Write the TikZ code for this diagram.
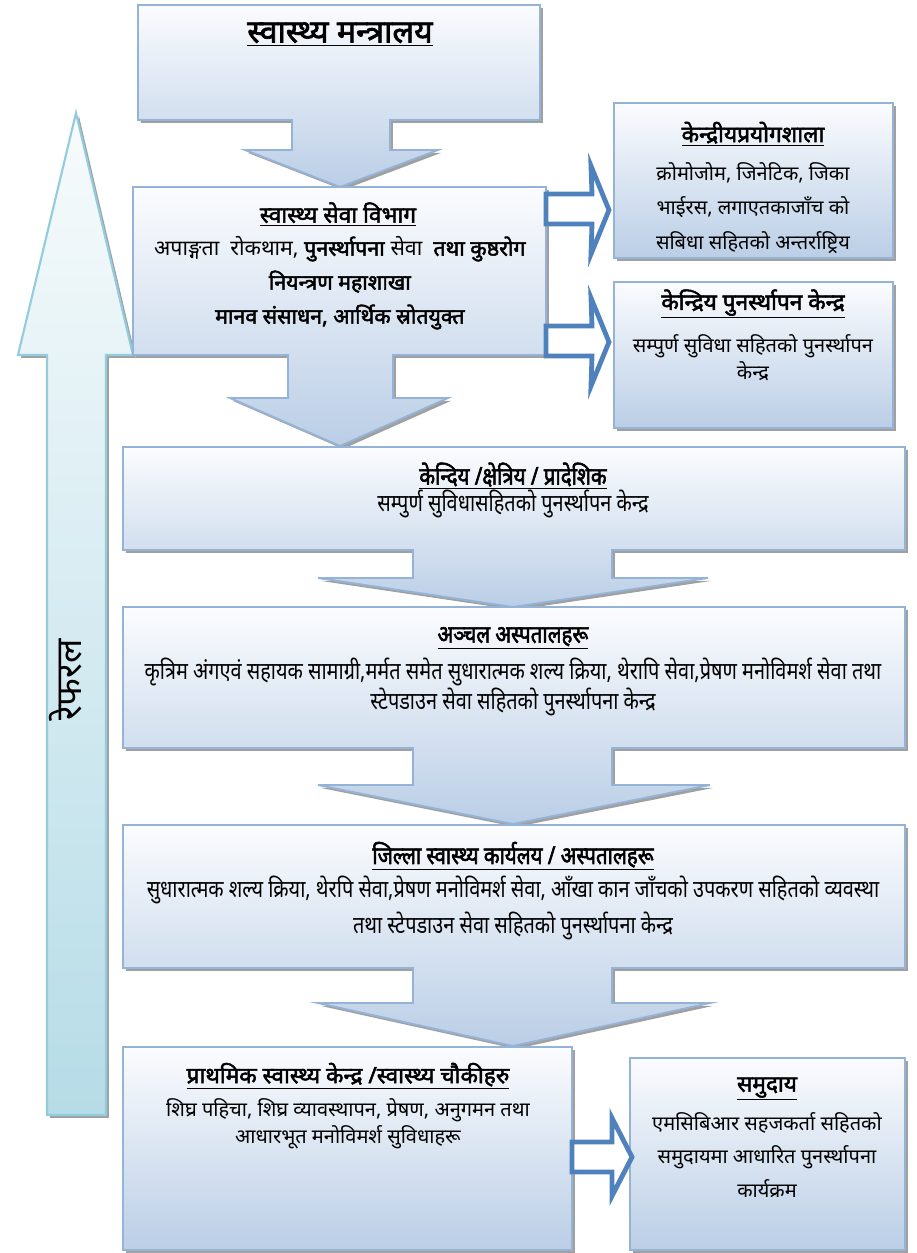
\documentclass[tikz,border=0pt]{standalone}
\usepackage{fontspec}
\newfontfamily\devfont[Script=Devanagari,BoldFont={Noto Sans},BoldFeatures={FakeBold=2.2}]{Noto Sans}
\newfontfamily\devnarrow[Script=Devanagari,FakeStretch=0.83,BoldFont={Noto Sans},BoldFeatures={FakeBold=2.2,FakeStretch=0.83}]{Noto Sans}

\definecolor{boxline}{HTML}{95B3D7}
\definecolor{boxtop}{HTML}{FBFCFE}
\definecolor{boxbottom}{HTML}{BACEE6}
\definecolor{hollowblue}{HTML}{4F81BD}
\definecolor{refline}{HTML}{93CDDD}
\definecolor{reftop}{HTML}{F7FBFC}
\definecolor{refbottom}{HTML}{B6DCE7}
\definecolor{shadowgray}{HTML}{A0A0A0}

\begin{document}
\begin{tikzpicture}[x=0.75pt,y=-0.75pt,
    boxshape/.style={draw=boxline, line width=1.4pt, top color=boxtop, bottom color=boxbottom,
        preaction={fill=shadowgray, transform canvas={shift={(2.2pt,-2.2pt)}}}},
    refshape/.style={draw=refline, line width=1.6pt, top color=reftop, bottom color=refbottom,
        preaction={fill=shadowgray, transform canvas={shift={(2.2pt,-2.2pt)}}}},
    hollowarrow/.style={draw=hollowblue, line width=3.6pt, fill=white, line join=miter},
    headtxt/.style={font=\devfont\bfseries\fontsize{#1}{#1}\selectfont},
    bodytxt/.style={align=center, font=\devfont\fontsize{15}{#1}\selectfont},
    narrowhead/.style={font=\devnarrow\bfseries\fontsize{18.5}{18.5}\selectfont},
    narrowbody/.style={align=center, font=\devnarrow\fontsize{18}{#1}\selectfont}]
    \useasboundingbox (0,0) rectangle (917,1253);
    % referral arrow on the left
    \path[refshape] (47,1115) -- (47,355) -- (18,355) -- (76,113) -- (133,355) -- (106,355) -- (106,1115) -- cycle;
    \node[rotate=90, font=\devfont\fontsize{27}{27}\selectfont] (referral) at (66,680) {रेफरल};
    % main column, top to bottom
    \path[boxshape] (138,5) -- (540,5) -- (540,120) -- (390,120) -- (390,150) -- (438,150) -- (340,187)
        -- (245,150) -- (292,150) -- (292,120) -- (138,120) -- cycle;
    \path[boxshape] (133,187) -- (546,187) -- (546,355) -- (393,355) -- (393,398) -- (448,398) -- (340,446)
        -- (230,398) -- (288,398) -- (288,355) -- (133,355) -- cycle;
    \path[boxshape] (123,447) -- (905,447) -- (905,550) -- (612,550) -- (612,578) -- (708,578) -- (513,607)
        -- (318,578) -- (413,578) -- (413,550) -- (123,550) -- cycle;
    \path[boxshape] (123,607) -- (905,607) -- (905,748) -- (612,748) -- (612,785) -- (710,785) -- (513,824)
        -- (318,785) -- (413,785) -- (413,748) -- (123,748) -- cycle;
    \path[boxshape] (123,825) -- (905,825) -- (905,968) -- (612,968) -- (612,1003) -- (710,1003) -- (513,1046)
        -- (318,1003) -- (413,1003) -- (413,968) -- (123,968) -- cycle;
    \path[boxshape] (123,1047) rectangle (572,1250);
    % side boxes
    \path[boxshape] (614,103) rectangle (893,258);
    \path[boxshape] (614,282) rectangle (893,428);
    \path[boxshape] (630,1058) rectangle (905,1250);
    % hollow arrows
    \draw[hollowarrow] (546,194) -- (592,194) -- (591,166) -- (609,210) -- (591,254) -- (592,224) -- (546,224) -- cycle;
    \draw[hollowarrow] (546,326) -- (592,326) -- (591,298) -- (609,342) -- (591,386) -- (592,356) -- (546,356) -- cycle;
    \draw[hollowarrow] (572,1142) -- (612,1142) -- (612,1118) -- (632,1157) -- (612,1196) -- (612,1172) -- (572,1172) -- cycle;
    % texts
    \node[headtxt=24] (mantralaya) at (340,34) {\underline{स्वास्थ्य मन्त्रालय}};
    \node[headtxt=17] (vibhag) at (338,214) {\underline{स्वास्थ्य सेवा विभाग}};
    \node[bodytxt=25.5pt, font=\devfont\fontsize{16}{25.5}\selectfont] (vibhagtxt) at (340,283) {अपाङ्गता\ \ रोकथाम, \textbf{पुनर्स्थापना} सेवा\ \ \textbf{तथा कुष्ठरोग}\\
        \textbf{नियन्त्रण महाशाखा}\\ \textbf{मानव संसाधन, आर्थिक स्रोतयुक्त}};
    \node[headtxt=17] (prayogshala) at (753,134) {\underline{केन्द्रीयप्रयोगशाला}};
    \node[bodytxt=26pt] (prayogshalatxt) at (753,208) {क्रोमोजोम, जिनेटिक, जिका\\ भाईरस, लगाएतकाजाँच को\\ सबिधा सहितको अन्तर्राष्ट्रिय};
    \node[headtxt=17] (punarsthapan) at (753,304) {\underline{केन्द्रिय पुनर्स्थापन केन्द्र}};
    \node[bodytxt=20pt] (punarsthapantxt) at (753,358) {सम्पुर्ण सुविधा सहितको पुनर्स्थापन\\ केन्द्र};
    \node[narrowhead] (kshetriya) at (513,476) {\underline{केन्दिय /क्षेत्रिय / प्रादेशिक}};
    \node[narrowbody=20pt] (kshetriyatxt) at (513,504) {सम्पुर्ण सुविधासहितको पुनर्स्थापन केन्द्र};
    \node[narrowhead] (anchal) at (513,638) {\underline{अञ्चल अस्पतालहरू}};
    \node[narrowbody=20pt] (anchaltxt) at (513,687) {कृत्रिम अंगएवं सहायक सामाग्री,मर्मत समेत सुधारात्मक शल्य क्रिया, थेरापि सेवा,प्रेषण मनोविमर्श सेवा तथा\\
        स्टेपडाउन सेवा सहितको पुनर्स्थापना केन्द्र};
    \node[narrowhead] (jilla) at (513,856) {\underline{जिल्ला स्वास्थ्य कार्यलय / अस्पतालहरू}};
    \node[narrowbody=27pt] (jillatxt) at (513,908) {सुधारात्मक शल्य क्रिया, थेरपि सेवा,प्रेषण मनोविमर्श सेवा, आँखा कान जाँचको उपकरण सहितको व्यवस्था\\
        तथा स्टेपडाउन सेवा सहितको पुनर्स्थापना केन्द्र};
    \node[headtxt=17] (prathamik) at (348,1076) {\underline{प्राथमिक स्वास्थ्य केन्द्र /स्वास्थ्य चौकीहरु}};
    \node[bodytxt=20pt] (prathamiktxt) at (348,1124) {शिघ्र पहिचा, शिघ्र व्यावस्थापन, प्रेषण, अनुगमन तथा\\ आधारभूत मनोविमर्श सुविधाहरू};
    \node[headtxt=17] (samudaya) at (767,1089) {\underline{समुदाय}};
    \node[bodytxt=25pt] (samudayatxt) at (767,1155) {एमसिबिआर सहजकर्ता सहितको\\ समुदायमा आधारित पुनर्स्थापना\\ कार्यक्रम};
\end{tikzpicture}
\end{document}
